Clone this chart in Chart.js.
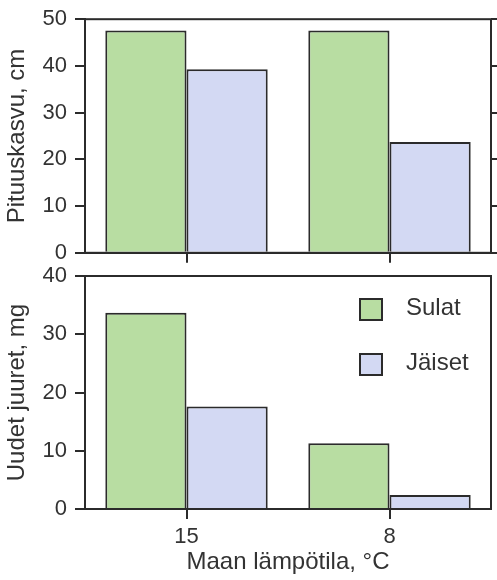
<!DOCTYPE html>
<html>
<head>
<meta charset="utf-8">
<script src="https://cdn.jsdelivr.net/npm/chart.js@4"></script>
<style>
  body { margin: 0; background: #fff; }
  #wrap { position: relative; width: 497px; height: 580px; overflow: hidden; }
  canvas { position: absolute; left: 0; }
  #growth { top: -2px; }
  #roots { top: 253px; }
</style>
</head>
<body>
<div id="wrap">
  <canvas id="growth" width="497" height="276"></canvas>
  <canvas id="roots" width="497" height="327"></canvas>
</div>
<script>
// data
var categories = ['15', '8'];
var seriesNames = ['Sulat', 'Jäiset'];
var growthSulat = [47.6, 47.6];
var growthJaiset = [39.3, 23.7];
var rootsSulat = [33.7, 11.3];
var rootsJaiset = [17.6, 2.4];
var growthTicks = [0, 10, 20, 30, 40, 50];
var rootsTicks = [0, 10, 20, 30, 40];

var green = 'rgb(184, 221, 162)';
var blue = 'rgb(211, 217, 243)';
var ink = '#2b2b2b';

Chart.defaults.font.family = '"Liberation Sans", Arial, sans-serif';
Chart.defaults.color = '#333';
Chart.defaults.animation = false;

// box around the plot area
var frame = {
    id: 'frame',
    afterDraw: function (chart) {
        var a = chart.chartArea, ctx = chart.ctx;
        ctx.save();
        ctx.strokeStyle = ink;
        ctx.lineWidth = 2;
        ctx.strokeRect(a.left, a.top, a.right - a.left, a.bottom - a.top);
        ctx.restore();
    }
};

// legend drawn inside the plot, top right
var insideLegend = {
    id: 'insideLegend',
    afterDraw: function (chart, args, opts) {
        if (!opts.show) return;
        var a = chart.chartArea, ctx = chart.ctx;
        ctx.save();
        chart.data.datasets.forEach(function (ds, i) {
            var x = a.right - 131, y = a.top + 23 + i * 55;
            ctx.fillStyle = ds.backgroundColor;
            ctx.fillRect(x, y, 22, 21);
            ctx.strokeStyle = ds.borderColor;
            ctx.lineWidth = 2;
            ctx.strokeRect(x, y, 22, 21);
            ctx.fillStyle = '#333';
            ctx.font = '24px "Liberation Sans", Arial, sans-serif';
            ctx.textBaseline = 'middle';
            ctx.fillText(ds.label, x + 46, y + 9);
        });
        ctx.restore();
    }
};

function setTicks(list) {
    return function (scale) {
        scale.ticks = list.map(function (v) { return { value: v }; });
    };
}

function bars(a, b) {
    return [{
        label: seriesNames[0], data: a,
        backgroundColor: green, borderColor: ink, borderWidth: 2
    }, {
        label: seriesNames[1], data: b,
        backgroundColor: blue, borderColor: ink, borderWidth: 2
    }];
}

var tickGrid = { drawOnChartArea: false, offset: false, color: ink, lineWidth: 2, tickLength: 10 };

new Chart(document.getElementById('growth'), {
    type: 'bar',
    data: { labels: categories, datasets: bars(growthSulat, growthJaiset) },
    options: {
        responsive: false,
        categoryPercentage: 0.8,
        barPercentage: 1.0,
        layout: { padding: { top: 18, right: 0, bottom: 0, left: 0 } },
        plugins: { legend: { display: false }, tooltip: { enabled: false }, insideLegend: { show: false } },
        scales: {
            x: {
                grid: tickGrid,
                border: { color: ink, width: 2 },
                ticks: { display: false },
                afterFit: function (s) { s.height = 14; }
            },
            y: {
                min: 0, max: 50,
                afterBuildTicks: setTicks(growthTicks),
                grid: tickGrid,
                border: { color: ink, width: 2 },
                ticks: { font: { size: 22 }, padding: 8 },
                title: { display: true, text: 'Pituuskasvu, cm', font: { size: 24 }, padding: { top: 3, bottom: 0 } },
                afterFit: function (s) { s.width = 85; }
            },
            y2: {
                position: 'right',
                min: 0, max: 50,
                afterBuildTicks: setTicks(growthTicks),
                grid: { drawOnChartArea: false, color: ink, lineWidth: 2, tickLength: 6 },
                border: { display: false },
                ticks: { display: false },
                afterFit: function (s) { s.width = 6; }
            }
        }
    },
    plugins: [frame, insideLegend]
});

new Chart(document.getElementById('roots'), {
    type: 'bar',
    data: { labels: categories, datasets: bars(rootsSulat, rootsJaiset) },
    options: {
        responsive: false,
        categoryPercentage: 0.8,
        barPercentage: 1.0,
        layout: { padding: { top: 23, right: 6, bottom: 0, left: 0 } },
        plugins: { legend: { display: false }, tooltip: { enabled: false }, insideLegend: { show: true } },
        scales: {
            x: {
                grid: tickGrid,
                border: { color: ink, width: 2 },
                ticks: { font: { size: 22 }, padding: 5 },
                title: { display: true, text: 'Maan lämpötila, °C', font: { size: 24 }, padding: { top: 0, bottom: 3 } },
                afterFit: function (s) { s.height = 71; }
            },
            y: {
                min: 0, max: 40,
                afterBuildTicks: setTicks(rootsTicks),
                grid: tickGrid,
                border: { color: ink, width: 2 },
                ticks: { font: { size: 22 }, padding: 8 },
                title: { display: true, text: 'Uudet juuret, mg', font: { size: 24 }, padding: { top: 3, bottom: 0 } },
                afterFit: function (s) { s.width = 85; }
            }
        }
    },
    plugins: [frame, insideLegend]
});
</script>
</body>
</html>
